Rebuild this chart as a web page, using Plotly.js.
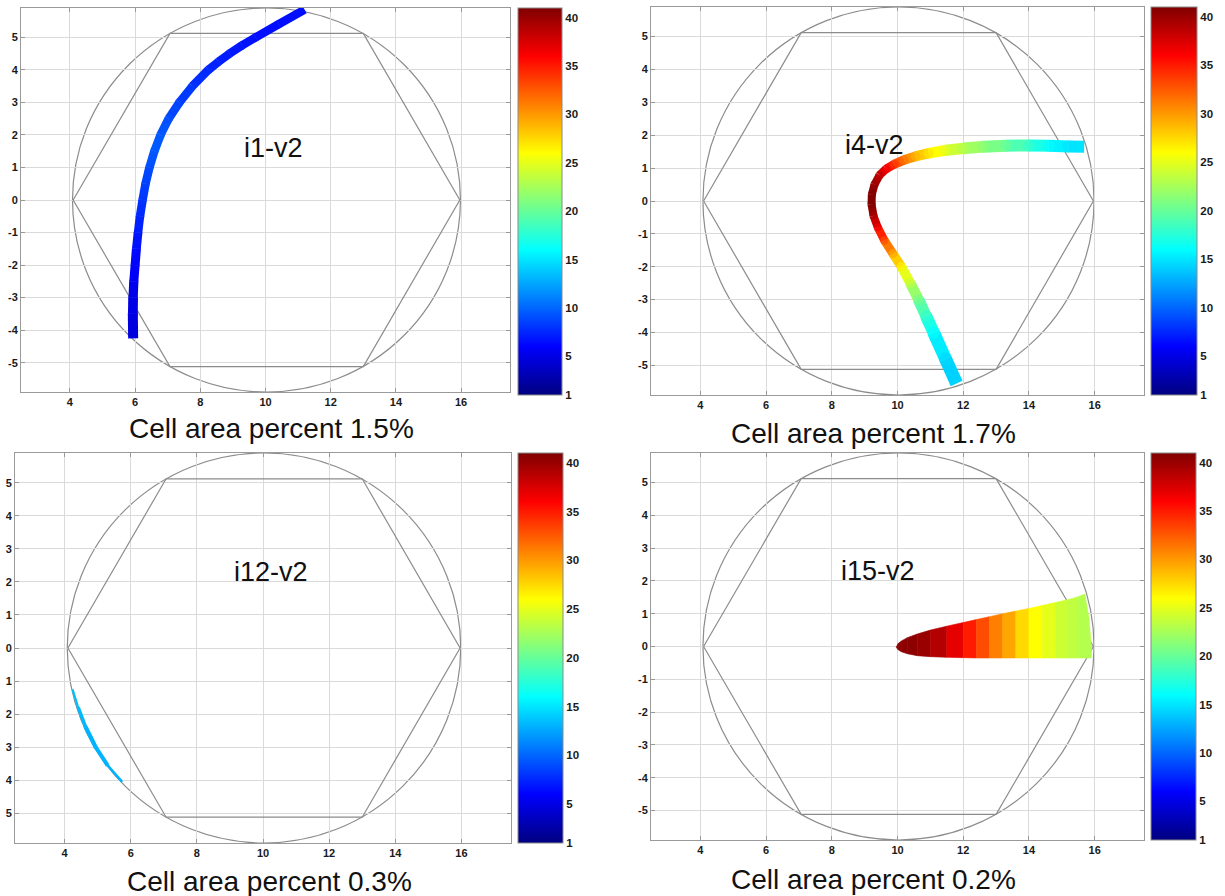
<!DOCTYPE html>
<html><head><meta charset="utf-8">
<script src="https://cdn.plot.ly/plotly-3.0.1.min.js"></script>
<style>html,body{margin:0;padding:0;background:#fff;overflow:hidden}#chart{width:1225px;height:896px}</style>
</head><body><div id="chart"></div>
<script>
// ---------------- data ----------------
const xTicks = [4, 6, 8, 10, 12, 14, 16];
const yTicks = [-5, -4, -3, -2, -1, 0, 1, 2, 3, 4, 5];
const yTickLabels = ['-5', '-4', '-3', '-2', '-1', '0', '1', '2', '3', '4', '5'];
const yTickLabelsCropped = ['5', '4', '3', '2', '1', '0', '1', '2', '3', '4', '5'];
const colorTicks = [1, 5, 10, 15, 20, 25, 30, 35, 40];
const colorRange = [1, 41];

const hexX = [4.1, 7.07, 13.0, 15.96, 13.0, 7.07, 4.1];
const hexY = [0, 5.12, 5.12, 0, -5.12, -5.12, 0];
const circleBox = [4.08, 15.98, -5.9, 5.9];

const panelNames = ['i1-v2', 'i4-v2', 'i12-v2', 'i15-v2'];
const areaTitles = ['Cell area percent 1.5%', 'Cell area percent 1.7%', 'Cell area percent 0.3%', 'Cell area percent 0.2%'];

// i1-v2 band
const i1X = [5.94, 5.93, 5.94, 5.96, 6.0, 6.04, 6.09, 6.15, 6.23, 6.32, 6.44, 6.59, 6.78, 7.03, 7.36, 7.76, 8.25, 8.56, 8.9, 9.28, 9.7, 10.4, 11.2];
const i1Y = [-4.25, -3.5, -3.0, -2.5, -2.0, -1.5, -1.0, -0.5, 0.0, 0.5, 1.0, 1.5, 2.0, 2.5, 3.0, 3.5, 4.0, 4.25, 4.5, 4.75, 5.0, 5.4, 5.85];
const i1V = [4.5, 5, 5, 5.5, 6, 6.5, 7, 7.5, 8, 8.5, 9, 9.5, 9.5, 9, 8.5, 8, 7.5, 7.2, 7, 6.8, 6.5, 6.5, 6.5];

// i4-v2 band
const i4X = [11.8, 11.46, 11.1, 10.87, 10.64, 10.39, 10.12, 9.86, 9.6, 9.4, 9.27, 9.21, 9.22, 9.3, 9.45, 9.65, 9.9, 10.2, 10.55, 10.95, 11.45, 12.0, 12.6, 13.3, 14.0, 14.6, 15.2, 15.68];
const i4Y = [-5.55, -4.8, -4.0, -3.5, -3.0, -2.5, -2.0, -1.6, -1.2, -0.8, -0.45, -0.1, 0.2, 0.5, 0.78, 0.97, 1.12, 1.25, 1.36, 1.45, 1.54, 1.6, 1.65, 1.68, 1.69, 1.68, 1.66, 1.65];
const i4V = [14, 14.5, 16, 18, 20.5, 23.5, 26.5, 29.5, 33, 36.5, 39.5, 41, 41, 40, 38.5, 36.5, 34, 31.5, 29, 27, 25, 23, 21.5, 20, 18, 16, 15, 15];

// i12-v2 sliver
const i12X = [4.24, 4.41, 4.64, 4.94, 5.3, 5.74];
const i12Y = [-1.25, -1.8, -2.4, -3.0, -3.55, -4.05];
const i12V = [13.5, 13.5, 13, 13, 13, 13];

// i15-v2 wedge (strip edges and values per strip)
const i15X = [9.96, 10.02, 10.12, 10.3, 10.6, 11.0, 11.5, 12.0, 12.4, 12.8, 13.2, 13.6, 14.0, 14.4, 14.8, 15.2, 15.5, 15.7, 15.82, 15.9];
const i15Top = [0, 0.09, 0.17, 0.27, 0.38, 0.5, 0.62, 0.73, 0.82, 0.91, 1.0, 1.08, 1.16, 1.25, 1.34, 1.43, 1.52, 1.6, 0.9, 0.0];
const i15Bottom = [-0.02, -0.1, -0.16, -0.22, -0.28, -0.31, -0.33, -0.34, -0.35, -0.35, -0.35, -0.35, -0.35, -0.35, -0.35, -0.35, -0.35, -0.35, -0.35, -0.35];
const i15V = [40.5, 40.5, 40.5, 40.5, 40, 39, 37, 35, 33, 31, 29.5, 27.5, 26, 25, 24, 23.5, 23, 23, 23];

// ---------------- styles ----------------
const i1W = [10, 10, 9.5, 9, 9, 9, 8.5, 8.5, 8.5, 8.5, 8.5, 8.5, 8.5, 8.5, 8.5, 8.5, 8.5, 8.5, 8.5, 8.5, 8.5, 8.5, 8.5];
const i4W = [13, 13, 12.5, 12, 11, 10, 9.5, 9, 8.5, 8, 8, 8, 8, 8, 8, 8.5, 9, 9.5, 10, 10.5, 11, 11.5, 12, 12, 12, 12, 12, 12];
const i12W = [1.5, 3, 4, 4.5, 3.5, 1.5];

const W = 1225, H = 896;
const FONT = 'Liberation Sans, Arial, sans-serif';
const jetScale = [[0, 'rgb(0,0,128)'], [0.125, 'rgb(0,0,255)'], [0.375, 'rgb(0,255,255)'], [0.625, 'rgb(255,255,0)'], [0.875, 'rgb(255,0,0)'], [1, 'rgb(128,0,0)']];
const jetRGB = jetScale.map(s => [s[0]].concat(s[1].match(/\d+/g).map(Number)));
function jet(v) {
  const t = Math.min(1, Math.max(0, (v - colorRange[0]) / (colorRange[1] - colorRange[0])));
  for (let i = 0; i < jetRGB.length - 1; i++) {
    const a = jetRGB[i], b = jetRGB[i + 1];
    if (t <= b[0]) {
      const f = (t - a[0]) / (b[0] - a[0]);
      return 'rgb(' + [1, 2, 3].map(k => Math.round(a[k] + f * (b[k] - a[k]))).join(',') + ')';
    }
  }
  return jetScale[jetScale.length - 1][1];
}
const bold = arr => arr.map(s => '<b>' + s + '</b>');

// panel geometry in page pixels
const panels = [
  { xa: 'x',  ya: 'y',  px: [21, 510],  py: [8, 392],   cb: [518, 562, 8, 395],   label: [10.25, 1.6], title: [271.5, 429], cropped: false },
  { xa: 'x2', ya: 'y2', px: [651, 1144], py: [7, 395],  cb: [1151, 1197, 7, 395], label: [9.3, 1.7],   title: [873, 433],   cropped: false },
  { xa: 'x3', ya: 'y3', px: [15, 511],  py: [453, 843], cb: [518, 563, 453, 843], label: [10.25, 2.3], title: [269, 881],   cropped: true },
  { xa: 'x4', ya: 'y4', px: [651, 1144], py: [453, 840], cb: [1151, 1196, 453, 840], label: [9.4, 2.3], title: [873, 879],  cropped: false }
];

function colorbarFor(p) {
  const [x0, x1, y0, y1] = p.cb;
  return {
    x: x0 / W, xanchor: 'left', xref: 'paper',
    y: 1 - (y0 + y1) / 2 / H, yanchor: 'middle', yref: 'paper',
    len: (y1 - y0) / H, lenmode: 'fraction',
    thickness: x1 - x0, thicknessmode: 'pixels',
    xpad: 0, ypad: 0, outlinewidth: 1, outlinecolor: '#8a8a8a',
    tickmode: 'array', tickvals: colorTicks, ticktext: bold(colorTicks.map(String)), ticks: '',
    tickfont: { family: FONT, size: 11.5, color: '#1a1a1a' }
  };
}

const traces = [];
const shapes = [];
const annotations = [];

function frame(p) {
  traces.push({ type: 'scatter', mode: 'lines', x: hexX, y: hexY, xaxis: p.xa, yaxis: p.ya,
    line: { color: '#8c8c8c', width: 1.2 }, hoverinfo: 'skip', showlegend: false });
  shapes.push({ type: 'circle', xref: p.xa, yref: p.ya, x0: circleBox[0], x1: circleBox[1], y0: circleBox[2], y1: circleBox[3],
    line: { color: '#8c8c8c', width: 1.2 }, layer: 'below' });
}

function band(p, xs, ys, vs, ws) {
  for (let i = 0; i < xs.length - 1; i++) {
    traces.push({ type: 'scatter', mode: 'lines', x: [xs[i], xs[i + 1]], y: [ys[i], ys[i + 1]], xaxis: p.xa, yaxis: p.ya,
      line: { color: jet((vs[i] + vs[i + 1]) / 2), width: (ws[i] + ws[i + 1]) / 2 }, hoverinfo: 'skip', showlegend: false });
  }
  traces.push({ type: 'scatter', mode: 'markers', x: xs.slice(1, -1), y: ys.slice(1, -1), xaxis: p.xa, yaxis: p.ya,
    marker: { color: vs.slice(1, -1), size: ws.slice(1, -1), colorscale: jetScale, cmin: colorRange[0], cmax: colorRange[1],
      showscale: true, colorbar: colorbarFor(p), line: { width: 0 } },
    hoverinfo: 'skip', showlegend: false });
}

function wedge(p, xs, top, bot, vs) {
  for (let i = 0; i < xs.length - 1; i++) {
    const c = jet(vs[i]);
    traces.push({ type: 'scatter', mode: 'lines', fill: 'toself', fillcolor: c,
      x: [xs[i], xs[i + 1], xs[i + 1], xs[i], xs[i]], y: [bot[i], bot[i + 1], top[i + 1], top[i], bot[i]],
      xaxis: p.xa, yaxis: p.ya, line: { color: c, width: 0.6 }, hoverinfo: 'skip', showlegend: false });
  }
  traces.push({ type: 'scatter', mode: 'markers', x: xs.slice(0, -1), y: bot.slice(0, -1), xaxis: p.xa, yaxis: p.ya,
    marker: { color: vs, size: 1, opacity: 0, colorscale: jetScale, cmin: colorRange[0], cmax: colorRange[1],
      showscale: true, colorbar: colorbarFor(p) },
    hoverinfo: 'skip', showlegend: false });
}

panels.forEach(frame);
band(panels[0], i1X, i1Y, i1V, i1W);
band(panels[1], i4X, i4Y, i4V, i4W);
band(panels[2], i12X, i12Y, i12V, i12W);
wedge(panels[3], i15X, i15Top, i15Bottom, i15V);

const layout = {
  width: W, height: H, margin: { l: 0, r: 0, t: 0, b: 0 },
  paper_bgcolor: '#ffffff', plot_bgcolor: '#ffffff', showlegend: false,
  font: { family: FONT, color: '#1a1a1a' },
  shapes: shapes, annotations: annotations
};

const tickFont = { family: FONT, size: 11, color: '#1a1a1a' };
panels.forEach((p, k) => {
  const sfx = k === 0 ? '' : String(k + 1);
  layout['xaxis' + sfx] = {
    domain: [p.px[0] / W, p.px[1] / W], anchor: p.ya, range: [2.5, 17.5],
    tickmode: 'array', tickvals: xTicks, ticktext: bold(xTicks.map(String)), ticks: 'inside', ticklen: 4, tickcolor: '#999',
    showline: true, linecolor: '#9a9a9a', linewidth: 1, mirror: 'ticks',
    showgrid: true, gridcolor: '#dadada', gridwidth: 1, zeroline: false, tickfont: tickFont, fixedrange: true
  };
  layout['yaxis' + sfx] = {
    domain: [1 - p.py[1] / H, 1 - p.py[0] / H], anchor: p.xa, range: [-5.9, 5.9],
    tickmode: 'array', tickvals: yTicks, ticktext: bold(p.cropped ? yTickLabelsCropped : yTickLabels),
    ticks: 'inside', ticklen: 4, tickcolor: '#999',
    showline: true, linecolor: '#9a9a9a', linewidth: 1, mirror: 'ticks',
    showgrid: true, gridcolor: '#dadada', gridwidth: 1, zeroline: false, tickfont: tickFont, fixedrange: true
  };
  annotations.push({ xref: p.xa, yref: p.ya, x: p.label[0], y: p.label[1], text: panelNames[k], showarrow: false,
    xanchor: 'center', yanchor: 'middle', font: { family: FONT, size: 27, color: '#111' } });
  annotations.push({ xref: 'paper', yref: 'paper', x: p.title[0] / W, y: 1 - p.title[1] / H, text: areaTitles[k], showarrow: false,
    xanchor: 'center', yanchor: 'middle', font: { family: FONT, size: 28, color: '#111' } });
});

Plotly.newPlot('chart', traces, layout, { displayModeBar: false, staticPlot: true });
</script>
</body></html>
